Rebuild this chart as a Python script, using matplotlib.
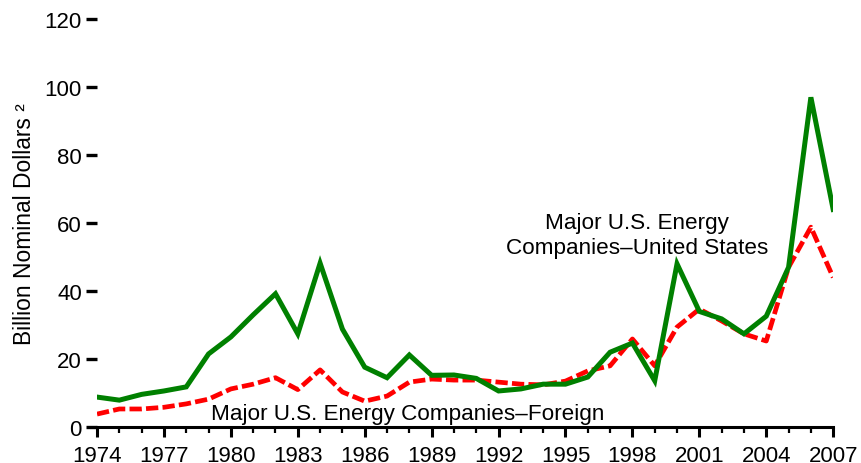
"""Major U.S. energy companies: capital spending, U.S. vs foreign, 1974-2007."""

import matplotlib

matplotlib.use("Agg")
import matplotlib.pyplot as plt  # noqa: E402
from matplotlib.ticker import MultipleLocator  # noqa: E402

plt.rcParams["font.family"] = ["Liberation Sans", "DejaVu Sans"]

YEARS = list(range(1974, 2008))
US = [8.8, 7.9, 9.6, 10.6, 11.8, 21.5, 26.5, 33.0, 39.2, 27.4, 48.2, 28.8,
      17.6, 14.5, 21.2, 15.2, 15.3, 14.3, 10.6, 11.2, 12.6, 12.6, 14.7, 22.0,
      24.7, 13.6, 48.0, 34.0, 31.8, 27.4, 32.6, 47.0, 97.0, 64.0]
FOREIGN = [3.8, 5.3, 5.3, 5.8, 6.8, 8.2, 11.2, 12.6, 14.5, 11.0, 16.8, 10.3,
           7.6, 9.1, 13.2, 14.1, 13.8, 13.8, 13.2, 12.6, 12.4, 13.5, 16.5,
           18.0, 25.9, 18.0, 29.4, 34.7, 31.2, 27.4, 25.3, 47.0, 58.8, 44.0]

GREEN = "#008000"
RED = "#ff0000"
INK = "#000000"


def main():
    fig = plt.figure(figsize=(8.61, 4.64), dpi=100)
    ax = fig.add_axes((0.1127, 0.0776, 0.855, 0.879))

    ax.plot(YEARS, FOREIGN, color=RED, lw=3.4, dashes=(2.6, 0.9),
            dash_capstyle="butt")
    ax.plot(YEARS, US, color=GREEN, lw=3.6, solid_joinstyle="miter")

    ax.set_xlim(1974, 2007)
    ax.set_ylim(0, 120)
    ax.xaxis.set_major_locator(MultipleLocator(3))
    ax.xaxis.set_minor_locator(MultipleLocator(1))
    ax.yaxis.set_major_locator(MultipleLocator(20))

    ax.spines[["top", "right", "left"]].set_visible(False)
    ax.spines["bottom"].set_linewidth(2.2)
    ax.spines["bottom"].set_color(INK)
    ax.tick_params(axis="x", which="major", length=7, width=2.2,
                   labelsize=16, pad=6, colors=INK)
    ax.tick_params(axis="x", which="minor", length=4, width=1.6, colors=INK)
    ax.tick_params(axis="y", length=8, width=2.4, labelsize=16, pad=3,
                   colors=INK)

    ax.set_ylabel("Billion Nominal Dollars \u00b2", fontsize=16.4, labelpad=6)

    ax.text(1998.2, 56.5, "Major U.S. Energy\nCompanies\u2013United States",
            ha="center", va="center", fontsize=16.2, linespacing=1.25)
    ax.text(1979.1, 4.0, "Major U.S. Energy Companies\u2013Foreign",
            ha="left", va="center", fontsize=16.2)

    fig.savefig("out.png")


if __name__ == "__main__":
    main()
